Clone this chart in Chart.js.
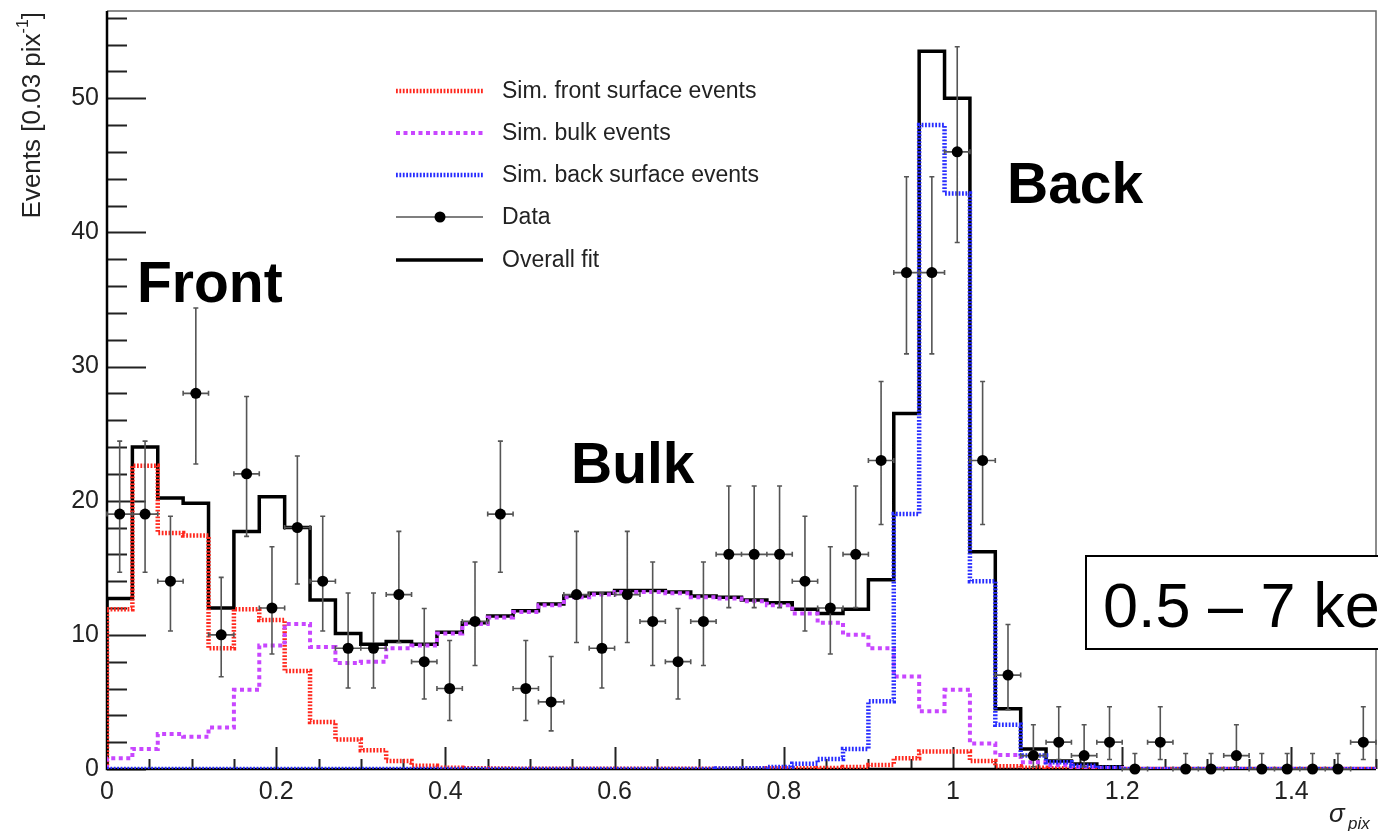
<!DOCTYPE html>
<html>
<head>
<meta charset="utf-8">
<script src="https://cdn.jsdelivr.net/npm/chart.js@4.4.1/dist/chart.umd.min.js"></script>
<style>
  body { margin: 0; background: #fff; }
  #wrap { position: relative; width: 1378px; height: 831px; }
</style>
</head>
<body>
<div id="wrap"><canvas id="sigmaChart" width="1378" height="831"></canvas></div>
<script>
// histogram bins: 50 bins of 0.03 from 0 to 1.5
const binWidth = 0.03;

const dataCounts = [19, 19, 14, 28, 10, 22, 12, 18, 14, 9,
  9, 13, 8, 6, 11, 19, 6, 5, 13, 9,
  13, 11, 8, 11, 16, 16, 16, 14, 12, 16,
  23, 37, 37, 46, 23, 7, 1, 2, 1, 2,
  0, 2, 0, 0, 1, 0, 0, 0, 0, 2];

// error bar ends (lower / upper)
const dataLow = [14.67, 14.67, 10.29, 22.73, 6.88, 17.34, 8.57, 13.79, 10.29, 6.04,
  6.04, 9.43, 5.22, 3.62, 7.72, 14.67, 3.62, 2.84, 9.43, 6.04,
  9.43, 7.72, 5.22, 7.72, 12.03, 12.03, 12.03, 10.29, 8.57, 12.03,
  18.23, 30.94, 30.94, 39.24, 18.23, 4.42, 0.17, 0.71, 0.17, 0.71,
  0, 0.71, 0, 0, 0.17, 0, 0, 0, 0, 0.71];
const dataHigh = [24.44, 24.44, 18.84, 34.36, 14.28, 27.77, 16.57, 23.33, 18.84, 13.12,
  13.12, 17.71, 11.96, 9.58, 15.43, 24.44, 9.58, 8.38, 17.71, 13.12,
  17.71, 15.43, 11.96, 15.43, 21.09, 21.09, 21.09, 18.84, 16.57, 21.09,
  28.88, 44.14, 44.14, 53.84, 28.88, 10.77, 3.30, 4.64, 3.30, 4.64,
  1.15, 4.64, 1.15, 1.15, 3.30, 1.15, 1.15, 1.15, 1.15, 4.64];

const fitValues = [12.7, 24.0, 20.2, 19.8, 12.0, 17.7, 20.3, 18.0, 12.6, 10.1,
  9.3, 9.5, 9.3, 10.2, 10.9, 11.4, 11.8, 12.3, 12.9, 13.1,
  13.3, 13.3, 13.2, 12.9, 12.8, 12.6, 12.4, 11.9, 11.6, 11.9,
  14.1, 26.5, 53.5, 50.0, 16.2, 4.5, 1.5, 0.6, 0.37, 0.17,
  0, 0, 0, 0, 0, 0, 0, 0, 0, 0];

const frontValues = [11.9, 22.6, 17.6, 17.4, 9.0, 11.9, 11.1, 7.3, 3.5, 2.2,
  1.4, 0.6, 0.25, 0.1, 0.05, 0.03, 0.02, 0.02, 0.02, 0.02,
  0.02, 0.02, 0.02, 0.02, 0.02, 0.03, 0.05, 0.05, 0.08, 0.15,
  0.3, 0.8, 1.3, 1.3, 0.6, 0.2, 0.1, 0.05, 0, 0,
  0, 0, 0, 0, 0, 0, 0, 0, 0, 0];

const bulkValues = [0.8, 1.5, 2.6, 2.4, 3.1, 5.9, 9.2, 10.8, 9.1, 7.9,
  8.0, 9.0, 9.2, 10.1, 10.8, 11.3, 11.7, 12.2, 12.8, 13.0,
  13.2, 13.2, 13.1, 12.8, 12.7, 12.5, 12.2, 11.6, 10.9, 10.0,
  9.0, 6.9, 4.3, 5.9, 1.9, 1.05, 0.5, 0.3, 0.15, 0.08,
  0, 0, 0, 0, 0, 0, 0, 0, 0, 0];

const backValues = [0, 0, 0, 0, 0, 0, 0, 0, 0, 0,
  0, 0, 0, 0, 0, 0, 0, 0, 0, 0,
  0, 0, 0, 0, 0.03, 0.05, 0.15, 0.4, 0.75, 1.5,
  5.05, 19.0, 48.0, 42.9, 14.0, 3.3, 1.0, 0.5, 0.25, 0.1,
  0, 0, 0, 0, 0, 0, 0, 0, 0, 0];

const xTicks = [0, 0.2, 0.4, 0.6, 0.8, 1, 1.2, 1.4];
const yTicks = [0, 10, 20, 30, 40, 50];

const legendLabels = ["Sim. front surface events", "Sim. bulk events",
  "Sim. back surface events", "Data", "Overall fit"];

const FONT = "'Liberation Sans', Arial, Helvetica, sans-serif";
const RED = "rgb(255,40,30)";
const MAGENTA = "rgb(200,70,255)";
const BLUE = "rgb(40,45,255)";
const HATCH = [1.8, 1.6];
const DOTS = [4, 3.5];

// step histogram points: rise from 0 at the left edge, hold each bin value
function histPoints(vals) {
  const pts = [{ x: 0, y: 0 }];
  vals.forEach((v, i) => pts.push({ x: i * binWidth, y: v }));
  pts.push({ x: vals.length * binWidth, y: vals[vals.length - 1] });
  return pts;
}

const dataPoints = dataCounts.map((v, i) => ({ x: (i + 0.5) * binWidth, y: v }));

function histSet(vals, color, width, dash) {
  return {
    type: "line",
    data: histPoints(vals),
    borderColor: color,
    borderWidth: width,
    borderDash: dash,
    borderCapStyle: "butt",
    stepped: "before",
    pointRadius: 0,
    tension: 0,
    fill: false
  };
}

const frameAndTicks = {
  id: "frameAndTicks",
  beforeDatasetsDraw(chart) {
    const { ctx, chartArea: a, scales: { x, y } } = chart;
    ctx.save();
    // frame top / right
    ctx.strokeStyle = "#666";
    ctx.lineWidth = 1.5;
    ctx.beginPath();
    ctx.moveTo(a.left, a.top);
    ctx.lineTo(a.right, a.top);
    ctx.lineTo(a.right, a.bottom);
    ctx.stroke();
    // ticks
    ctx.strokeStyle = "#222";
    ctx.lineWidth = 2;
    ctx.beginPath();
    for (let v = 0; v <= 56; v += 2) {
      const py = Math.round(y.getPixelForValue(v)) + 0.5;
      const len = v % 10 === 0 ? 39 : 20;
      ctx.moveTo(a.left, py);
      ctx.lineTo(a.left + len, py);
    }
    for (let k = 0; k <= 30; k++) {
      const v = k * 0.05;
      const px = Math.round(x.getPixelForValue(v)) + 0.5;
      const len = k % 4 === 0 ? 22 : 10;
      ctx.moveTo(px, a.bottom);
      ctx.lineTo(px, a.bottom - len);
    }
    ctx.stroke();
    // axes
    ctx.strokeStyle = "#000";
    ctx.lineWidth = 2.5;
    ctx.beginPath();
    ctx.moveTo(a.left, a.top);
    ctx.lineTo(a.left, a.bottom);
    ctx.lineTo(a.right, a.bottom);
    ctx.stroke();
    ctx.restore();
  },
  beforeDatasetDraw(chart, args) {
    if (args.index !== 0) return;
    const { ctx, scales: { x, y } } = chart;
    ctx.save();
    ctx.strokeStyle = "#555";
    ctx.lineWidth = 1.6;
    ctx.beginPath();
    dataCounts.forEach((v, i) => {
      const cx = x.getPixelForValue((i + 0.5) * binWidth);
      const cy = y.getPixelForValue(v);
      const x0 = x.getPixelForValue(i * binWidth);
      const x1 = x.getPixelForValue((i + 1) * binWidth);
      const yl = y.getPixelForValue(dataLow[i]);
      const yh = y.getPixelForValue(dataHigh[i]);
      // horizontal bar with caps
      ctx.moveTo(x0, cy); ctx.lineTo(x1, cy);
      ctx.moveTo(x0, cy - 2.5); ctx.lineTo(x0, cy + 2.5);
      ctx.moveTo(x1, cy - 2.5); ctx.lineTo(x1, cy + 2.5);
      // vertical bar with caps
      ctx.moveTo(cx, yl); ctx.lineTo(cx, yh);
      if (dataLow[i] > 0) { ctx.moveTo(cx - 2.5, yl); ctx.lineTo(cx + 2.5, yl); }
      ctx.moveTo(cx - 2.5, yh); ctx.lineTo(cx + 2.5, yh);
    });
    ctx.stroke();
    ctx.restore();
  },
  afterDraw(chart) {
    const ctx = chart.ctx;
    ctx.save();
    // legend
    const rows = [91, 133, 175, 217, 260];
    const lx0 = 396, lx1 = 483;
    const styles = [
      { c: RED, w: 4.5, d: HATCH },
      { c: MAGENTA, w: 4, d: DOTS },
      { c: BLUE, w: 4.5, d: HATCH },
      { c: "#555", w: 1.6, d: [] },
      { c: "#000", w: 3.5, d: [] }
    ];
    styles.forEach((s, i) => {
      ctx.strokeStyle = s.c;
      ctx.lineWidth = s.w;
      ctx.setLineDash(s.d);
      ctx.lineCap = "butt";
      ctx.beginPath();
      ctx.moveTo(lx0, rows[i]);
      ctx.lineTo(lx1, rows[i]);
      ctx.stroke();
    });
    ctx.setLineDash([]);
    ctx.fillStyle = "#000";
    ctx.beginPath();
    ctx.arc(440, rows[3], 5.5, 0, Math.PI * 2);
    ctx.fill();
    ctx.fillStyle = "#222";
    ctx.font = "23px " + FONT;
    ctx.textBaseline = "middle";
    ctx.textAlign = "left";
    legendLabels.forEach((t, i) => ctx.fillText(t, 502, rows[i] + 1));

    // region labels
    ctx.fillStyle = "#000";
    ctx.font = "bold 57px " + FONT;
    ctx.textBaseline = "alphabetic";
    ctx.fillText("Front", 137, 302);
    ctx.fillText("Bulk", 571, 483);
    ctx.fillText("Back", 1007, 203);

    // energy box
    ctx.fillStyle = "#fff";
    ctx.fillRect(1086, 556, 320, 93);
    ctx.strokeStyle = "#000";
    ctx.lineWidth = 2;
    ctx.strokeRect(1086, 556, 320, 93);
    ctx.fillStyle = "#000";
    ctx.font = "63px " + FONT;
    ctx.fillText("0.5 \u2013 7 keV", 1103, 627);

    // y axis title, rotated, ending near the top of the frame
    ctx.fillStyle = "#222";
    const mainFont = "26px " + FONT;
    const supFont = "16px " + FONT;
    ctx.font = mainFont;
    const w1 = ctx.measureText("Events [0.03 pix").width;
    const w3 = ctx.measureText("]").width;
    ctx.font = supFont;
    const w2 = ctx.measureText("-1").width;
    ctx.translate(40, 12 + w1 + w2 + w3);
    ctx.rotate(-Math.PI / 2);
    ctx.textAlign = "left";
    ctx.font = mainFont;
    ctx.fillText("Events [0.03 pix", 0, 0);
    ctx.font = supFont;
    ctx.fillText("-1", w1, -12);
    ctx.font = mainFont;
    ctx.fillText("]", w1 + w2, 0);
    ctx.setTransform(1, 0, 0, 1, 0, 0);

    // x axis title
    ctx.fillStyle = "#222";
    ctx.font = "italic 26px " + FONT;
    ctx.fillText("\u03c3", 1329, 822);
    ctx.font = "italic 17px " + FONT;
    ctx.fillText("pix", 1348, 829);
    ctx.restore();
  }
};

new Chart(document.getElementById("sigmaChart"), {
  data: {
    datasets: [
      {
        type: "scatter",
        data: dataPoints,
        pointRadius: 5.5,
        pointBackgroundColor: "#000",
        pointBorderWidth: 0,
        showLine: false,
        clip: false
      },
      histSet(backValues, BLUE, 4.5, HATCH),
      histSet(bulkValues, MAGENTA, 4, DOTS),
      histSet(frontValues, RED, 4.5, HATCH),
      histSet(fitValues, "#000", 3.5, [])
    ]
  },
  options: {
    responsive: false,
    devicePixelRatio: 1,
    animation: false,
    layout: { autoPadding: false, padding: { top: 11, right: 2, left: 0, bottom: 0 } },
    plugins: { legend: { display: false }, tooltip: { enabled: false } },
    scales: {
      x: {
        type: "linear",
        min: 0,
        max: 1.5,
        grid: { display: false, drawTicks: false },
        border: { display: false },
        afterBuildTicks: s => { s.ticks = xTicks.map(v => ({ value: v })); },
        afterFit: s => {
          s.height = 62;
          s.paddingLeft = 0; s.paddingRight = 0;
          s.paddingTop = 0; s.paddingBottom = 0;
        },
        ticks: {
          autoSkip: false,
          maxRotation: 0,
          padding: 8,
          color: "#222",
          font: { family: FONT, size: 25 },
          callback: v => String(v)
        }
      },
      y: {
        type: "linear",
        min: 0,
        max: 56.5,
        grid: { display: false, drawTicks: false },
        border: { display: false },
        afterBuildTicks: s => { s.ticks = yTicks.map(v => ({ value: v })); },
        afterFit: s => {
          s.width = 107;
          s.paddingLeft = 0; s.paddingRight = 0;
          s.paddingTop = 0; s.paddingBottom = 0;
        },
        ticks: {
          padding: 8,
          color: "#222",
          font: { family: FONT, size: 25 },
          callback: v => String(v)
        }
      }
    }
  },
  plugins: [frameAndTicks]
});
</script>
</body>
</html>
